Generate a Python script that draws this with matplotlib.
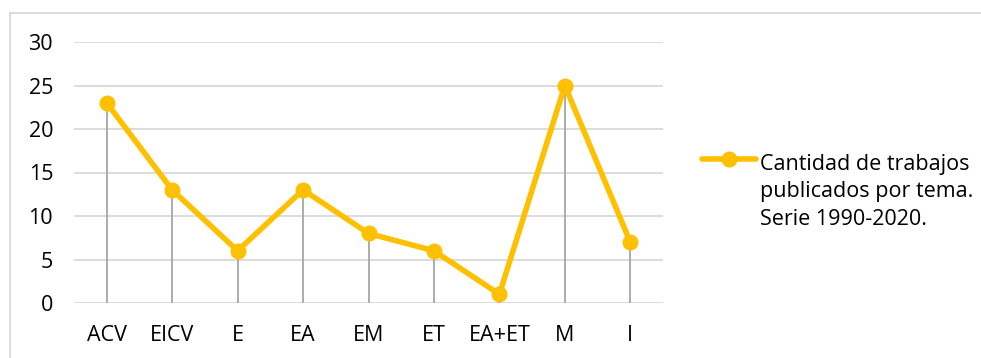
import matplotlib.pyplot as plt
from matplotlib.patches import Rectangle

plt.rcParams['font.family'] = ['Open Sans', 'DejaVu Sans']

# publications per topic
temas = ['ACV', 'EICV', 'E', 'EA', 'EM', 'ET', 'EA+ET', 'M', 'I']
trabajos = [23, 13, 6, 13, 8, 6, 1, 25, 7]
serie = 'Cantidad de trabajos\npublicados por tema.\nSerie 1990-2020.'

amarillo = '#FFC000'
gris_grid = '#D9D9D9'

fig = plt.figure(figsize=(9.81, 3.58), dpi=100)
ax = fig.add_axes([74 / 981, 1 - 303 / 358, (663 - 74) / 981, (303 - 42) / 358])

x = list(range(len(temas)))

# drop lines from each point down to the axis
ax.vlines(x, 0, trabajos, color='#A6A6A6', lw=1.3, zorder=2)
ax.plot(x, trabajos, color=amarillo, lw=4, marker='o', ms=10.5,
        solid_capstyle='round', zorder=3, label=serie)

ax.set_xlim(-0.5, len(temas) - 0.5)
ax.set_ylim(0, 30)
ax.set_yticks(range(0, 31, 5))
ax.set_xticks(x)
ax.set_xticklabels(temas)
ax.yaxis.grid(True, color=gris_grid, lw=1.3)
ax.set_axisbelow(True)
for s in ax.spines.values():
    s.set_visible(False)
ax.tick_params(axis='both', length=0, colors='#000000', labelsize=15.5)
ax.tick_params(axis='x', pad=16)
ax.tick_params(axis='y', pad=15)

# legend anchored to the right of the plot, marker beside the first text line
leg = ax.legend(loc='center left', bbox_to_anchor=(702 / 981, 1 - 159 / 358),
                bbox_transform=fig.transFigure, frameon=False,
                fontsize=15.5, handlelength=2.5, handletextpad=0.18,
                borderpad=0, borderaxespad=0)
for t in leg.get_texts():
    t.set_linespacing(1.4)
    t.set_va('center')

# outer chart frame
fig.patches.append(Rectangle((10 / 981, -0.1), 1.2, 1 - 13 / 358 + 0.1,
                             transform=fig.transFigure, fill=False,
                             edgecolor=gris_grid, lw=1.3))

fig.savefig('out.png', dpi=100)
